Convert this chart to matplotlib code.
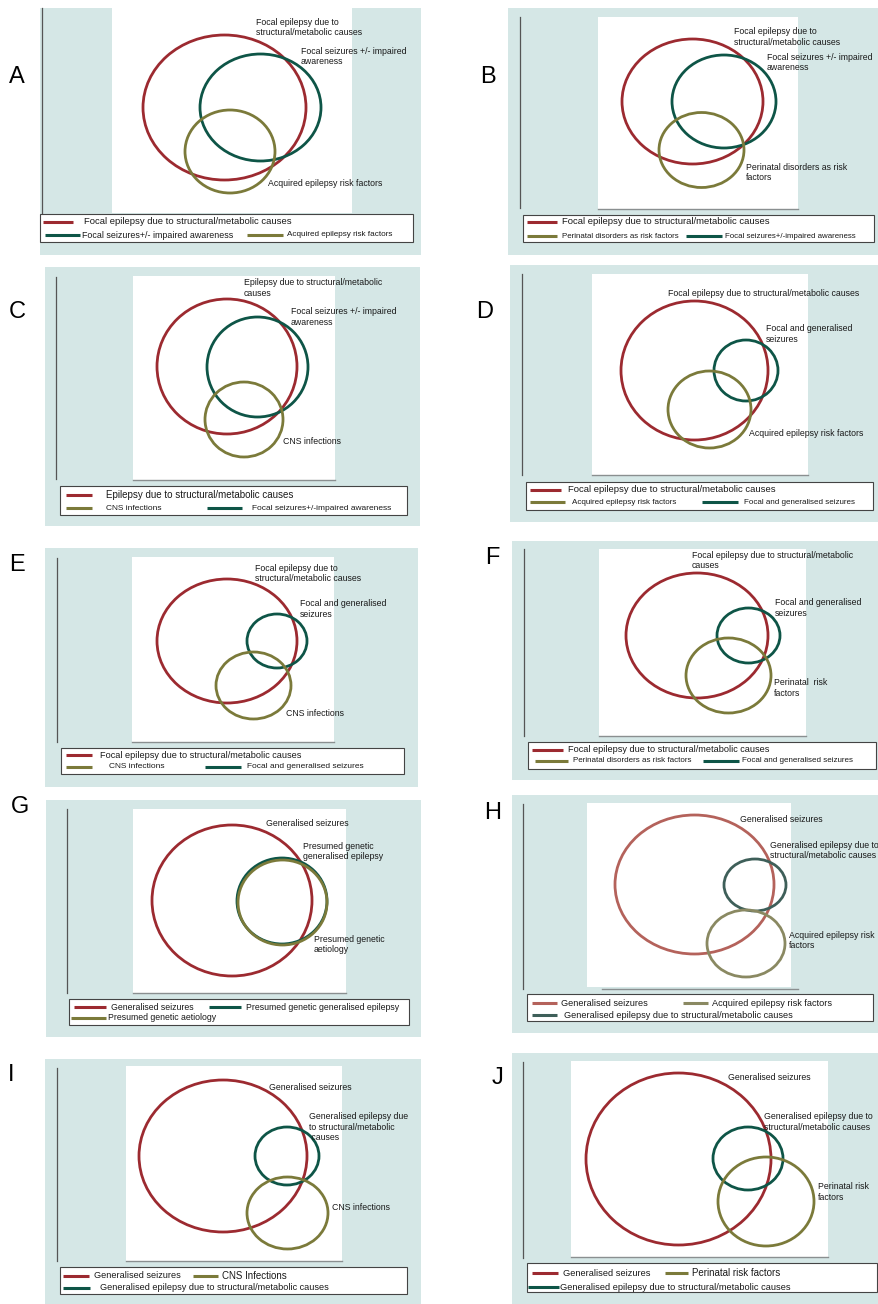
import matplotlib
matplotlib.use('Agg')
import matplotlib.pyplot as plt
from matplotlib.patches import Ellipse, Rectangle

plt.rcParams['font.family'] = ['Liberation Sans', 'DejaVu Sans']

# ---------------------------------------------------------------
# Data (pixel units of the 879x1304 image)
# each panel has 3 sets, in the order: red, green, olive
# ---------------------------------------------------------------
panels = ['A', 'B', 'C', 'D', 'E', 'F', 'G', 'H', 'I', 'J']

circle_x = [
    [224.5, 260.5, 230.0],
    [692.5, 724.0, 701.5],
    [227.0, 257.5, 244.0],
    [694.5, 746.0, 709.5],
    [227.0, 277.0, 253.5],
    [697.0, 748.5, 728.5],
    [232.0, 282.0, 282.5],
    [694.5, 755.0, 746.0],
    [223.0, 287.0, 287.5],
    [678.5, 748.0, 766.0],
]
circle_y = [
    [107.5, 107.5, 151.5],
    [101.5, 101.5, 150.0],
    [366.5, 367.0, 419.5],
    [370.5, 370.5, 409.5],
    [641.0, 641.0, 685.5],
    [635.5, 635.5, 675.5],
    [900.5, 901.0, 902.5],
    [884.5, 885.0, 943.5],
    [1156.0, 1156.0, 1213.0],
    [1159.0, 1158.5, 1201.5],
]
circle_w = [
    [163, 121, 90],
    [141, 104, 85],
    [140, 101, 78],
    [147, 64, 83],
    [140, 60, 75],
    [142, 63, 85],
    [160, 90, 89],
    [159, 62, 78],
    [168, 64, 81],
    [185, 70, 96],
]
circle_h = [
    [145, 107, 83],
    [125, 93, 75],
    [135, 100, 75],
    [139, 61, 77],
    [124, 54, 67],
    [125, 55, 75],
    [151, 86, 85],
    [139, 52, 67],
    [152, 58, 72],
    [172, 63, 89],
]

circle_text = [
    ["Focal epilepsy due to\nstructural/metabolic causes", "Focal seizures +/- impaired\nawareness",
     "Acquired epilepsy risk factors"],
    ["Focal epilepsy due to\nstructural/metabolic causes", "Focal seizures +/- impaired\nawareness",
     "Perinatal disorders as risk\nfactors"],
    ["Epilepsy due to structural/metabolic\ncauses", "Focal seizures +/- impaired\nawareness",
     "CNS infections"],
    ["Focal epilepsy due to structural/metabolic causes", "Focal and generalised\nseizures",
     "Acquired epilepsy risk factors"],
    ["Focal epilepsy due to\nstructural/metabolic causes", "Focal and generalised\nseizures",
     "CNS infections"],
    ["Focal epilepsy due to structural/metabolic\ncauses", "Focal and generalised\nseizures",
     "Perinatal  risk\nfactors"],
    ["Generalised seizures", "Presumed genetic\ngeneralised epilepsy", "Presumed genetic\naetiology"],
    ["Generalised seizures", "Generalised epilepsy due to\nstructural/metabolic causes",
     "Acquired epilepsy risk\nfactors"],
    ["Generalised seizures", "Generalised epilepsy due\nto structural/metabolic\n causes", "CNS infections"],
    ["Generalised seizures", "Generalised epilepsy due to\nstructural/metabolic causes",
     "Perinatal risk\nfactors"],
]

legend_text = [
    ["Focal epilepsy due to structural/metabolic causes", "Focal seizures+/- impaired awareness",
     "Acquired epilepsy risk factors"],
    ["Focal epilepsy due to structural/metabolic causes", "Focal seizures+/-impaired awareness",
     "Perinatal disorders as risk factors"],
    ["Epilepsy due to structural/metabolic causes", "Focal seizures+/-impaired awareness", "CNS infections"],
    ["Focal epilepsy due to structural/metabolic causes", "Focal and generalised seizures",
     "Acquired epilepsy risk factors"],
    ["Focal epilepsy due to structural/metabolic causes", "Focal and generalised seizures", "CNS infections"],
    ["Focal epilepsy due to structural/metabolic causes", "Focal and generalised seizures",
     "Perinatal disorders as risk factors"],
    ["Generalised seizures", "Presumed genetic generalised epilepsy", "Presumed genetic aetiology"],
    ["Generalised seizures", "Generalised epilepsy due to structural/metabolic causes",
     "Acquired epilepsy risk factors"],
    ["Generalised seizures", "Generalised epilepsy due to structural/metabolic causes", "CNS Infections"],
    ["Generalised seizures", "Generalised epilepsy due to structural/metabolic causes", "Perinatal risk factors"],
]

# ---------------------------------------------------------------
# Layout / style (pixels)
# ---------------------------------------------------------------
RED, GREEN, OLIVE = '#9c2a30', '#0e5547', '#7b7a3a'
MUTED = ['#b4625b', '#3e5f59', '#8a8962']   # panel H is paler
BG = '#d5e7e6'

bg_box = [(40, 8, 421, 255), (508, 8, 879, 255), (45, 267, 420, 526), (510, 265, 879, 522),
          (45, 548, 418, 787), (512, 541, 879, 780), (46, 800, 421, 1037), (512, 795, 879, 1033),
          (45, 1059, 421, 1304), (512, 1053, 879, 1304)]
white_box = [(112, 8, 352, 213), (598, 17, 798, 209), (133, 276, 335, 480), (592, 274, 808, 475),
             (132, 557, 334, 742), (599, 549, 806, 736), (133, 809, 346, 993), (587, 803, 791, 987),
             (126, 1066, 342, 1261), (571, 1061, 828, 1257)]
bottom_line = [None, (598, 798, 209), (133, 335, 480), (592, 808, 475), (132, 334, 742),
               (599, 806, 736), (133, 346, 993), (602, 798, 989), (126, 342, 1261), (571, 828, 1257)]
axis_line = [(42, 8, 213), (520, 17, 208), (56, 277, 479), (522, 274, 475), (57, 558, 742),
             (524, 549, 736), (67, 809, 993), (523, 804, 989), (57, 1068, 1261), (523, 1062, 1258)]
letter_xy = [(17, 77), (488, 77), (17, 312), (485, 312), (17, 565), (492, 558), (20, 807),
             (493, 813), (11, 1075), (498, 1078)]
label_xy = [
    [(256, 27.5), (301, 56.5), (268, 184)],
    [(734, 37), (767, 62.5), (746, 172.5)],
    [(244, 288), (291, 317), (283, 442)],
    [(668, 294), (766, 334), (749, 434)],
    [(255, 573.5), (300, 609), (286, 713)],
    [(692, 560.5), (775, 608), (774, 688)],
    [(266, 824), (303, 851.5), (314, 944.5)],
    [(740, 819), (770, 850.5), (789, 940.5)],
    [(269, 1088), (309, 1127), (332, 1207)],
    [(728, 1078), (764, 1122), (818, 1192)],
]
legend_box = [(40, 214, 413, 242), (523, 215, 874, 242), (60, 486, 407, 515), (526, 482, 873, 510),
              (61, 748, 404, 774), (528, 742, 876, 769), (69, 999, 409, 1025), (527, 994, 873, 1021),
              (60, 1267, 407, 1294), (527, 1263, 877, 1292)]
# (set index, line x0, line x1, y, text x, fontsize)
legend_items = [
    [(0, 43, 73, 222, 84, 6.8), (1, 45, 80, 235, 82, 6.4), (2, 247, 283, 235, 287, 5.9)],
    [(0, 527, 557, 222, 562, 6.8), (2, 527, 557, 236, 562, 5.7), (1, 686, 722, 236, 725, 5.7)],
    [(0, 66, 92, 495, 106, 7.0), (2, 66, 92, 508, 106, 6.0), (1, 207, 242, 508, 252, 6.0)],
    [(0, 530, 561, 490, 568, 6.8), (2, 530, 565, 502, 572, 5.8), (1, 702, 738, 502, 744, 5.8)],
    [(0, 66, 92, 755, 100, 6.6), (2, 66, 92, 767, 109, 6.0), (1, 205, 241, 767, 247, 6.0)],
    [(0, 532, 563, 750, 568, 6.6), (2, 535, 568, 761, 573, 5.8), (1, 703, 739, 761, 742, 5.8)],
    [(0, 74, 106, 1007, 111, 6.3), (1, 209, 241, 1007, 246, 6.3), (2, 71, 106, 1018, 108, 6.3)],
    [(0, 532, 557, 1003, 561, 6.6), (2, 683, 708, 1003, 712, 6.6), (1, 532, 557, 1015, 564, 6.6)],
    [(0, 63, 89, 1276, 94, 6.6), (2, 193, 218, 1276, 222, 7.0), (1, 63, 90, 1288, 100, 6.6)],
    [(0, 532, 558, 1273, 563, 6.7), (2, 665, 688, 1273, 692, 7.0), (1, 528, 559, 1287, 560, 6.7)],
]

# ---------------------------------------------------------------
fig = plt.figure(figsize=(8.79, 13.04), dpi=100)
ax = fig.add_axes([0, 0, 1, 1])
ax.set_xlim(0, 879)
ax.set_ylim(1304, 0)
ax.axis('off')

for i, name in enumerate(panels):
    colors = MUTED if name == 'H' else [RED, GREEN, OLIVE]

    x0, y0, x1, y1 = bg_box[i]
    ax.add_patch(Rectangle((x0, y0), x1 - x0, y1 - y0, fc=BG, ec='none', zorder=0))
    x0, y0, x1, y1 = white_box[i]
    ax.add_patch(Rectangle((x0, y0), x1 - x0, y1 - y0, fc='white', ec='none', zorder=1))

    ax_x, ay0, ay1 = axis_line[i]
    ax.plot([ax_x, ax_x], [ay0, ay1], color='#555555', lw=0.9, zorder=2)
    if bottom_line[i] is not None:
        bx0, bx1, by = bottom_line[i]
        ax.plot([bx0, bx1], [by, by], color='#8a8f90', lw=1.0, zorder=2)

    ax.text(letter_xy[i][0], letter_xy[i][1], name, fontsize=17, ha='center', va='center', zorder=5)

    # circles
    for k in range(3):
        ax.add_patch(Ellipse((circle_x[i][k], circle_y[i][k]), circle_w[i][k], circle_h[i][k],
                             fill=False, ec=colors[k], lw=2.0, zorder=3 + k * 0.1))
        lx, ly = label_xy[i][k]
        ax.text(lx, ly, circle_text[i][k], fontsize=6.3, ha='left', va='center',
                linespacing=1.2, color='#1a1a1a', zorder=5)

    # legend
    x0, y0, x1, y1 = legend_box[i]
    ax.add_patch(Rectangle((x0, y0), x1 - x0, y1 - y0, fc='white', ec='#444444', lw=0.8, zorder=4))
    for k, lx0, lx1, ly, tx, fs in legend_items[i]:
        ax.plot([lx0, lx1], [ly, ly], color=colors[k], lw=2.2, solid_capstyle='butt', zorder=5)
        ax.text(tx, ly, legend_text[i][k], fontsize=fs, ha='left', va='center', color='#1a1a1a', zorder=5)

fig.savefig('out.png', dpi=100, facecolor='white')
